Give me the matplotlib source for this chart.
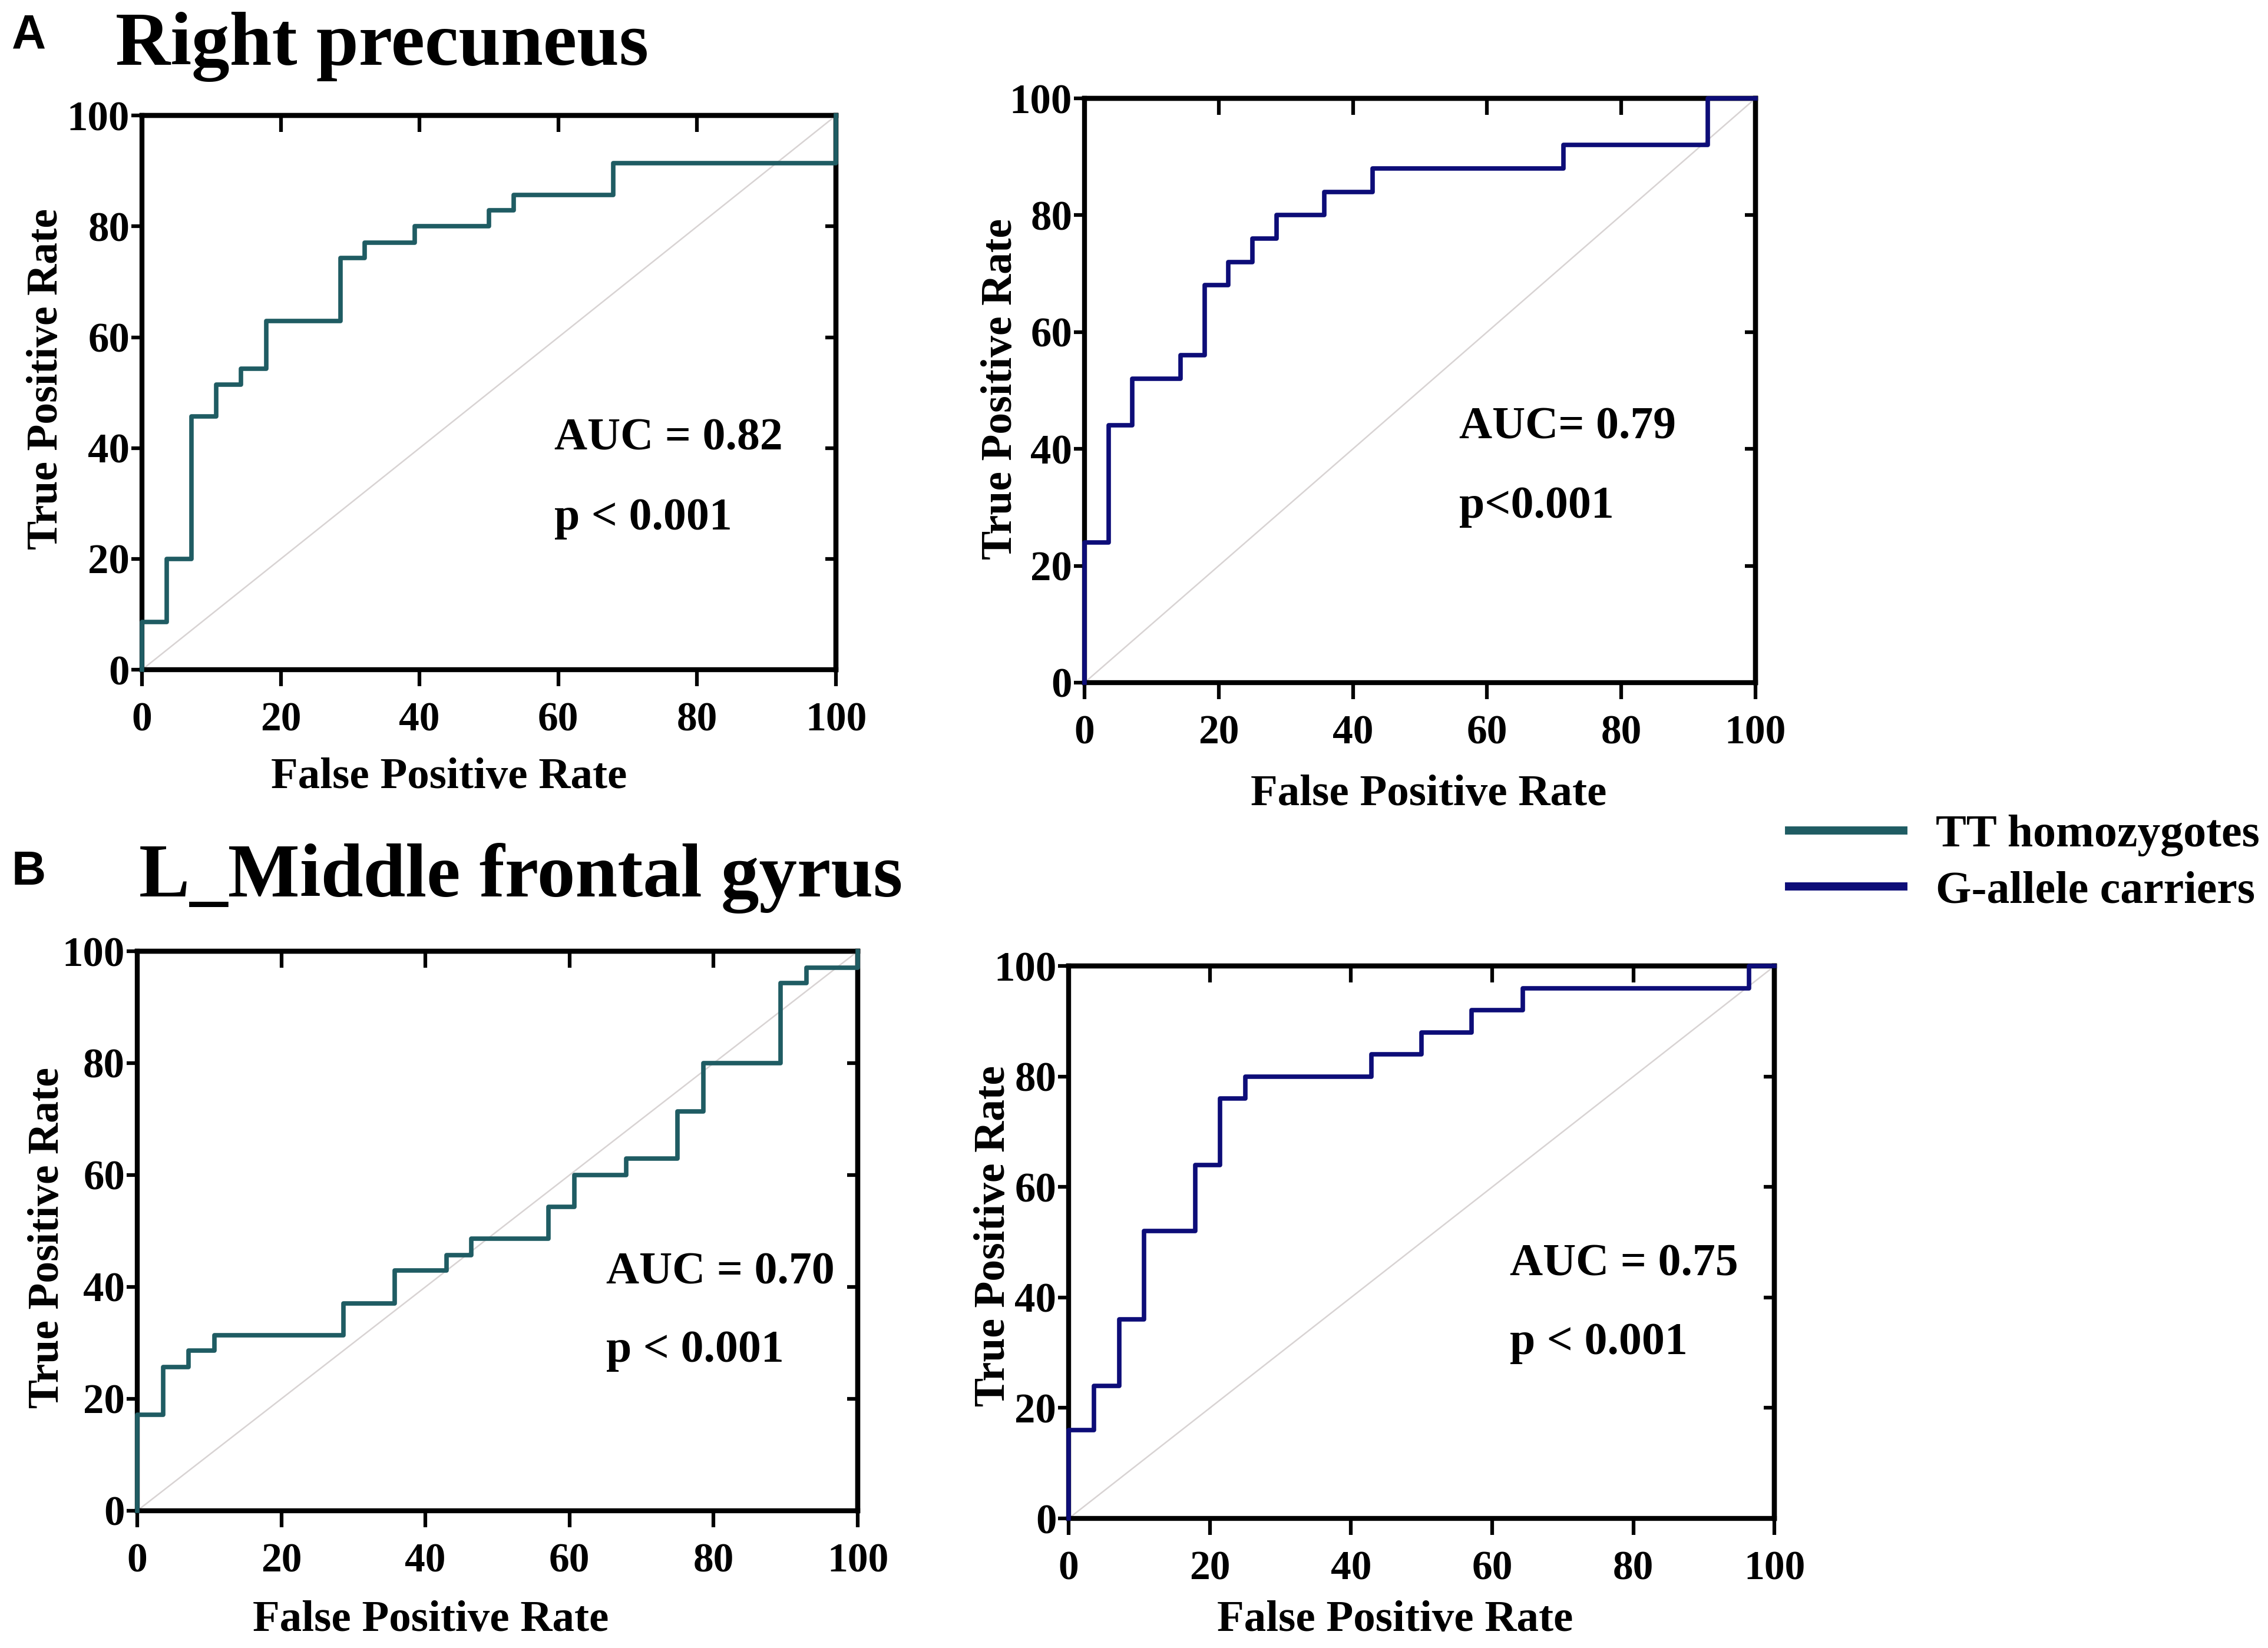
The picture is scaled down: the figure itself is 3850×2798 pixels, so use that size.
import matplotlib
matplotlib.use("Agg")
import matplotlib.pyplot as plt
from matplotlib.lines import Line2D

plt.rcParams["font.family"] = ["Liberation Serif", "DejaVu Serif"]
plt.rcParams["font.weight"] = "bold"

TT_COLOR = "#1f5c63"
G_COLOR = "#0d0d78"

# ROC step curves, in percent: FPR positions where TPR jumps, and the TPR reached
a_tt_fpr = [0, 0, 3.57, 7.14, 10.7, 14.3, 17.9, 28.6, 32.1, 39.3, 50, 53.6, 67.9, 100]
a_tt_tpr = [0, 8.57, 20, 45.7, 51.4, 54.3, 62.9, 74.3, 77.1, 80, 82.9, 85.7, 91.4, 100]

a_g_fpr = [0, 0, 3.57, 7.14, 14.3, 17.9, 21.4, 25, 28.6, 35.7, 42.9, 71.4, 92.9, 100]
a_g_tpr = [0, 24, 44, 52, 56, 68, 72, 76, 80, 84, 88, 92, 100, 100]

b_tt_fpr = [0, 0, 3.57, 7.14, 10.7, 28.6, 35.7, 42.9, 46.4, 57.1, 60.7, 67.9, 75, 78.6, 89.3, 92.9, 100]
b_tt_tpr = [0, 17.1, 25.7, 28.6, 31.4, 37.1, 42.9, 45.7, 48.6, 54.3, 60, 62.9, 71.4, 80, 94.3, 97.1, 100]

b_g_fpr = [0, 0, 3.57, 7.14, 10.7, 17.9, 21.4, 25, 42.9, 50, 57.1, 64.3, 96.4, 100]
b_g_tpr = [0, 16, 24, 36, 52, 64, 76, 80, 84, 88, 92, 96, 100, 100]

auc_text = ["AUC = 0.82", "AUC= 0.79", "AUC = 0.70", "AUC = 0.75"]
p_text = ["p < 0.001", "p<0.001", "p < 0.001", "p < 0.001"]
ticks = [0, 20, 40, 60, 80, 100]

fig = plt.figure(figsize=(38.5, 27.98), dpi=100)

panels = [
    # axes rect, data, color, text pos (auc), p y, xlabel pos, ylabel pos
    ([0.0626, 0.5936, 0.3060, 0.3363], a_tt_fpr, a_tt_tpr, TT_COLOR, (59.4, 39.7), 25.3, (0.198, 0.5218), (0.0205, 0.770)),
    ([0.4782, 0.5858, 0.2958, 0.3545], a_g_fpr, a_g_tpr, G_COLOR, (55.8, 41.8), 28.2, (0.630, 0.5114), (0.4413, 0.764)),
    ([0.0605, 0.0833, 0.3177, 0.3395], b_tt_fpr, b_tt_tpr, TT_COLOR, (65.1, 40.6), 26.6, (0.190, 0.0104), (0.0210, 0.249)),
    ([0.4712, 0.0786, 0.3112, 0.3352], b_g_fpr, b_g_tpr, G_COLOR, (62.5, 44.0), 29.8, (0.615, 0.0104), (0.4382, 0.250)),
]

for i, (rect, fpr, tpr, color, auc_pos, p_y, xl, yl) in enumerate(panels):
    ax = fig.add_axes(rect)
    ax.plot([0, 100], [0, 100], color="#d8d3d3", lw=1.8, zorder=1)
    ax.step(fpr, tpr, where="post", color=color, lw=5.5, clip_on=False, zorder=5)
    ax.set_xlim(0, 100)
    ax.set_ylim(0, 100)
    ax.set_xticks(ticks)
    ax.set_yticks(ticks)
    for s in ax.spines.values():
        s.set_linewidth(6)
    ax.tick_params(axis="x", direction="out", length=20, width=4.5, pad=19, labelsize=50)
    ax.tick_params(axis="y", direction="out", length=13, width=4.5, pad=2, labelsize=51)

    # mirrored inward ticks on top and right, like the Prism original
    top = ax.secondary_xaxis("top")
    top.set_xticks([20, 40, 60, 80])
    top.tick_params(direction="in", length=20, width=4.5, labeltop=False)
    top.spines["top"].set_linewidth(6)
    right = ax.secondary_yaxis("right")
    right.set_yticks([20, 40, 60, 80])
    right.tick_params(direction="in", length=13, width=4.5, labelright=False)
    right.spines["right"].set_linewidth(6)

    ax.text(auc_pos[0], auc_pos[1], auc_text[i], fontsize=56, fontweight="bold", va="baseline")
    ax.text(auc_pos[0], p_y, p_text[i], fontsize=56, fontweight="bold", va="baseline")

    fig.text(xl[0], xl[1], "False Positive Rate", fontsize=54, fontweight="bold",
             ha="center", va="baseline")
    fig.text(yl[0], yl[1], "True Positive Rate", fontsize=53, fontweight="bold",
             rotation=90, ha="center", va="center")

fig.text(0.0052, 0.971, "A", fontsize=58, fontweight="bold",
         family=["Liberation Sans Narrow", "Liberation Sans"], va="baseline")
fig.text(0.0052, 0.4632, "B", fontsize=58, fontweight="bold",
         family=["Liberation Sans Narrow", "Liberation Sans"], va="baseline")
fig.text(0.0509, 0.9607, "Right precuneus", fontsize=93, fontweight="bold", va="baseline")
fig.text(0.0613, 0.4560, "L_Middle frontal gyrus", fontsize=93, fontweight="bold", va="baseline")

handles = [Line2D([], [], color=TT_COLOR, lw=10), Line2D([], [], color=G_COLOR, lw=10)]
fig.legend(handles, ["TT homozygotes", "G-allele carriers"], loc="center left",
           bbox_to_anchor=(0.7888, 0.476), frameon=False, fontsize=56,
           handlelength=2.5, handletextpad=0.7, labelspacing=0.3, borderpad=0,
           borderaxespad=0)

fig.savefig("out.png", dpi=100, facecolor="white")
